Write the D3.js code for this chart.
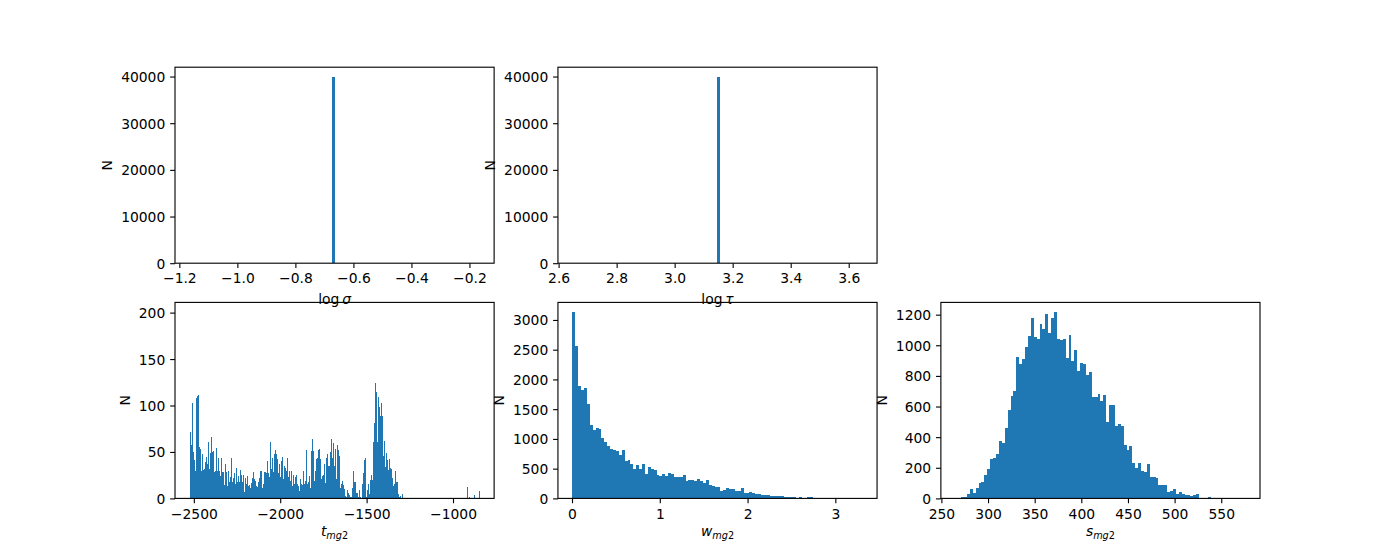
<!DOCTYPE html>
<html>
<head>
<meta charset="utf-8">
<script src="https://cdn.jsdelivr.net/npm/d3@7"></script>
<style>
  html, body { margin: 0; padding: 0; background: #ffffff; }
  svg { display: block; }
  text { font-family: "DejaVu Sans", sans-serif; fill: #000; }
</style>
</head>
<body>
<div id="chart"></div>
<script>
// ---------------- data ----------------
// log sigma: all samples in one bin
const sigmaRange = [-1.165, -0.165];
const sigmaBinEdges = [-0.675, -0.665];
const sigmaCounts = [40000];
const sigmaTicks = [-1.2, -1.0, -0.8, -0.6, -0.4, -0.2];

// log tau: all samples in one bin
const tauRange = [2.6477, 3.6477];
const tauBinEdges = [3.1477, 3.1577];
const tauCounts = [40000];
const tauTicks = [2.6, 2.8, 3.0, 3.2, 3.4, 3.6];

const topYTicks = [0, 10000, 20000, 30000, 40000];

// t_mg2 histogram
const tRange = [-2525, -846];
const tCounts = [
  72,57,103,50,41,30,108,110,111,55,
  53,29,48,31,32,39,45,37,61,32,
  49,66,50,51,28,30,54,29,43,30,
  24,43,28,28,14,37,28,13,29,18,
  23,43,18,22,27,16,33,18,24,18,
  31,25,18,25,7,22,16,24,13,14,
  11,17,22,28,21,19,13,12,18,22,
  29,29,11,16,28,
  28,27,40,27,23,61,32,44,28,48,
  52,48,42,27,37,23,40,45,21,35,
  33,30,44,23,30,19,30,13,25,16,
  23,25,16,13,8,21,15,14,29,15,
  19,52,16,18,24,11,51,64,51,19,
  29,42,44,52,53,42,21,24,25,37,
  17,44,48,35,35,50,64,43,60,35,
  53,21,58,52,46,11,16,19,
  14,10,3,1,9,6,4,2,1,11,
  29,18,18,6,6,1,9,2,0,16,
  27,41,44,1,9,16,5,20,25,20,
  61,81,124,115,61,109,98,89,103,89,
  46,62,34,49,41,31,42,33,32,22,
  13,16,29,18,18,5,1,3,0,5,
  0,0,0,0,0,0,0,0,0,0,
  0,0,0,0,0,0,0,0,0,0,
  0,0,0,0,0,0,0,0,0,0,
  0,0,0,0,0,0,0,0,0,0,
  0,0,0,0,0,0,0,0,0,0,
  0,0,0,0,0,0,0,0,0,0,
  0,0,0,
  12,0,1,0,0,0,0,4,0,0,0,0,8
];
const tTicks = [-2500, -2000, -1500, -1000];
const tYTicks = [0, 50, 100, 150, 200];

// w_mg2 histogram
const wRange = [0.005, 3.31];
const wCounts = [
  3135,2569,1897,1830,1864,1584,1226,1142,1186,1170,
  1013,946,879,834,817,795,722,806,627,649,
  582,498,565,487,582,403,526,487,470,397,
  375,414,369,431,414,358,358,358,386,285,
  302,313,291,319,297,257,313,229,207,185,
  190,129,134,173,162,151,129,118,173,95,
  84,106,84,67,67,62,50,50,39,34,
  34,34,34,22,22,22,22,11,22,11,
  11,22,22,6,3,4,2,1,2,1,
  0,1,0,0,1,0,0,0,0,1
];
const wTicks = [0, 1, 2, 3];
const wYTicks = [0, 500, 1000, 1500, 2000, 2500, 3000];

// s_mg2 histogram
const sRange = [265, 576];
const sCounts = [
  1,4,7,11,28,59,33,67,102,107,
  154,189,259,263,293,372,361,461,580,672,
  704,926,876,911,991,1061,1180,1057,1039,1139,
  1107,1202,1078,1180,1219,1041,1035,1041,917,1067,
  898,972,833,883,878,809,828,661,663,680,
  633,674,496,607,607,472,487,470,346,317,
  343,230,198,233,176,172,226,143,139,133,
  85,85,89,41,46,63,30,39,30,24,
  24,15,20,28,4,2,2,7,0,1,
  0,0,0,0,0,0,0,0,0,1
];
const sTicks = [250, 300, 350, 400, 450, 500, 550];
const sYTicks = [0, 200, 400, 600, 800, 1000, 1200];

// upper y limits of each panel
const yLimits = [42000, 42000, 211, 3295, 1280];

// ---------------- layout ----------------
const W = 1400, H = 560;
const PT = 100 / 72;
const FS = 10 * PT;
const figL = 0.125 * W, figR = 0.9 * W, figT = (1 - 0.88) * H, figB = (1 - 0.11) * H;
const ncols = 3, nrows = 2, wspace = 0.2, hspace = 0.2;
const cellW = (figR - figL) / (ncols + (ncols - 1) * wspace);
const cellH = (figB - figT) / (nrows + (nrows - 1) * hspace);
const BLUE = "#1f77b4";
const tickLen = 3.5 * PT, tickPad = 3.5 * PT, labelPad = 4 * PT;

const minus = s => s.replace(/-/g, "\u2212");

function binsFromRange(range, counts) {
  const bw = (range[1] - range[0]) / counts.length;
  return counts.map((c, i) => ({ x0: range[0] + i * bw, x1: range[0] + (i + 1) * bw, n: c }));
}
function binsFromEdges(edges, counts) {
  return counts.map((c, i) => ({ x0: edges[i], x1: edges[i + 1], n: c }));
}

const panels = [
  { r: 0, c: 0, range: sigmaRange, bins: binsFromEdges(sigmaBinEdges, sigmaCounts), xt: sigmaTicks, yt: topYTicks,
    fmt: d => minus(d3.format(".1f")(d)), label: [["log", {}], ["\u2009", {}], ["\u03c3", { italic: true }]] },
  { r: 0, c: 1, range: tauRange, bins: binsFromEdges(tauBinEdges, tauCounts), xt: tauTicks, yt: topYTicks,
    fmt: d => d3.format(".1f")(d), label: [["log", {}], ["\u2009", {}], ["\u03c4", { italic: true }]] },
  { r: 1, c: 0, range: tRange, bins: binsFromRange(tRange, tCounts), xt: tTicks, yt: tYTicks,
    fmt: d => minus(String(d)), label: [["t", { italic: true }], ["mg", { italic: true, sub: true }], ["2", { sub: true }]] },
  { r: 1, c: 1, range: wRange, bins: binsFromRange(wRange, wCounts), xt: wTicks, yt: wYTicks,
    fmt: d => String(d), label: [["w", { italic: true }], ["mg", { italic: true, sub: true }], ["2", { sub: true }]] },
  { r: 1, c: 2, range: sRange, bins: binsFromRange(sRange, sCounts), xt: sTicks, yt: sYTicks,
    fmt: d => String(d), label: [["s", { italic: true }], ["mg", { italic: true, sub: true }], ["2", { sub: true }]] }
];

const svg = d3.select("#chart").append("svg")
  .attr("width", W).attr("height", H)
  .attr("viewBox", `0 0 ${W} ${H}`);

svg.append("rect").attr("width", W).attr("height", H).attr("fill", "#fff");

panels.forEach((p, idx) => {
  const left = figL + p.c * cellW * (1 + wspace);
  const top = figT + p.r * cellH * (1 + hspace);
  const w = cellW, h = cellH;
  const R = p.range[1] - p.range[0];
  const x = d3.scaleLinear().domain([p.range[0] - 0.05 * R, p.range[1] + 0.05 * R]).range([0, w]);
  const y = d3.scaleLinear().domain([0, yLimits[idx]]).range([h, 0]);

  const g = svg.append("g").attr("transform", `translate(${left},${top})`);

  g.append("g").attr("shape-rendering", "crispEdges")
    .selectAll("rect").data(p.bins.filter(b => b.n > 0)).join("rect")
    .attr("x", b => x(b.x0))
    .attr("width", b => Math.max(0, x(b.x1) - x(b.x0)))
    .attr("y", b => y(b.n))
    .attr("height", b => y(0) - y(b.n))
    .attr("fill", BLUE);

  // x axis
  const xa = g.append("g").attr("transform", `translate(0,${h})`)
    .call(d3.axisBottom(x).tickValues(p.xt).tickFormat(p.fmt).tickSize(tickLen).tickPadding(tickPad).tickSizeOuter(0));
  xa.select(".domain").remove();
  xa.selectAll("line").attr("stroke", "#000").attr("stroke-width", 0.8 * PT);
  xa.selectAll("text").attr("font-size", FS).attr("font-family", "DejaVu Sans")
    .attr("y", tickLen + tickPad).attr("dy", "0.76em").attr("fill", "#000");

  // y axis
  const ya = g.append("g")
    .call(d3.axisLeft(y).tickValues(p.yt).tickFormat(d => String(d)).tickSize(tickLen).tickPadding(tickPad).tickSizeOuter(0));
  ya.select(".domain").remove();
  ya.selectAll("line").attr("stroke", "#000").attr("stroke-width", 0.8 * PT);
  ya.selectAll("text").attr("font-size", FS).attr("font-family", "DejaVu Sans")
    .attr("x", -(tickLen + tickPad)).attr("dy", "0.36em").attr("fill", "#000");

  // spines
  g.append("rect").attr("x", 0).attr("y", 0).attr("width", w).attr("height", h)
    .attr("fill", "none").attr("stroke", "#000").attr("stroke-width", 0.8 * PT);

  // y label
  let maxW = 0;
  ya.selectAll("text").each(function () { maxW = Math.max(maxW, this.getBBox().width); });
  const ylx = -(tickLen + tickPad + maxW + labelPad + 0.236 * FS);
  g.append("text")
    .attr("transform", `translate(${ylx},${h / 2}) rotate(-90)`)
    .attr("text-anchor", "middle")
    .attr("font-size", FS)
    .text("N");

  // x label
  const baseY = p.r === 0 ? h + 40.5 : h + 37.5;
  const xl = g.append("text")
    .attr("x", w / 2).attr("y", baseY)
    .attr("text-anchor", "middle")
    .attr("font-size", FS);
  let inSub = false;
  p.label.forEach(([txt, opt]) => {
    const ts = xl.append("tspan").text(txt);
    if (opt.italic) ts.attr("font-style", "italic");
    if (opt.sub) {
      ts.attr("font-size", FS * 0.7);
      if (!inSub) { ts.attr("dy", 3); inSub = true; }
    }
  });
});
</script>
</body>
</html>
